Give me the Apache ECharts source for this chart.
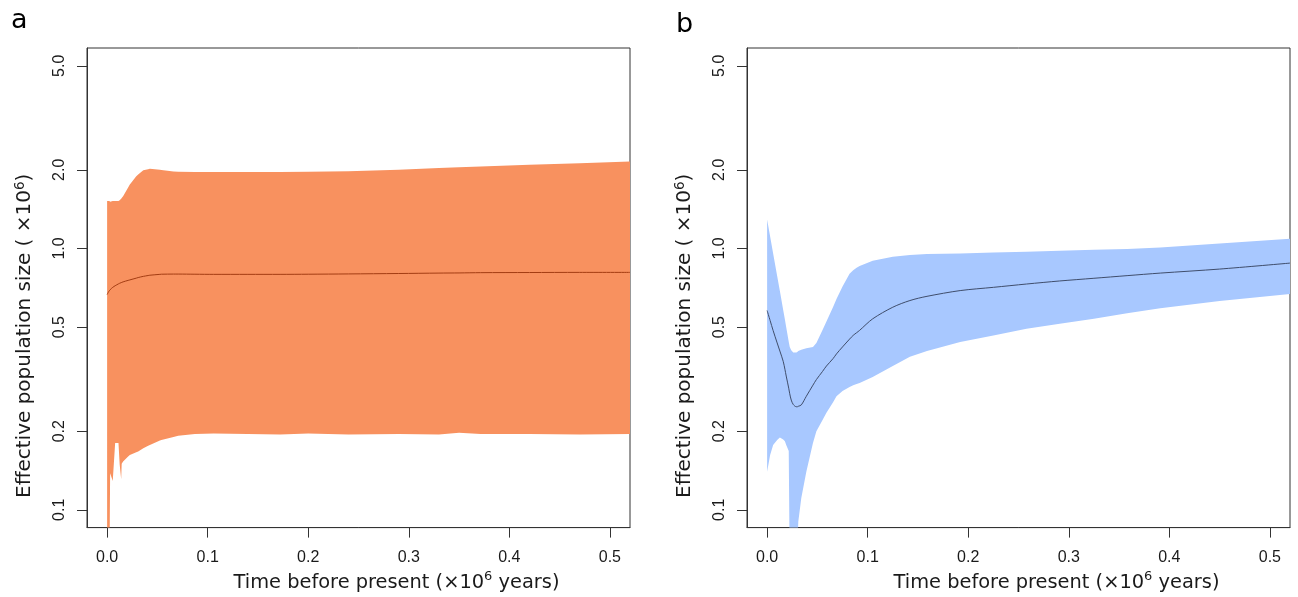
<!DOCTYPE html>
<html><head><meta charset="utf-8">
<script src="https://cdn.jsdelivr.net/npm/echarts@6/dist/echarts.min.js"></script>
<style>html,body{margin:0;padding:0;background:#fff}#c{width:1298px;height:597px}</style>
</head><body><div id="c"></div>
<script>
// ---- Panel a (orange) ----
const timesA  = [0, 0.0015, 0.0022, 0.003, 0.0056, 0.008, 0.0113, 0.0125, 0.014, 0.0145, 0.0159, 0.0209, 0.0226, 0.029, 0.0309, 0.036, 0.0408, 0.0425, 0.0525, 0.054, 0.066, 0.0707, 0.0873, 0.106, 0.14, 0.172, 0.2, 0.24, 0.29, 0.33, 0.35, 0.3715, 0.42, 0.47, 0.52];
const upperA  = [1.52, 1.52, 1.52, 1.51, 1.52, 1.52, 1.52, 1.53, 1.55, 1.56, 1.585, 1.71, 1.757, 1.89, 1.92, 1.99, 2.01, 2.02, 2.0, 1.995, 1.97, 1.965, 1.96, 1.96, 1.96, 1.96, 1.965, 1.975, 2.0, 2.03, 2.045, 2.06, 2.09, 2.12, 2.15];
const lowerA  = [0.05, 0.05, 0.05, 0.138, 0.129, 0.18, 0.18, 0.149, 0.131, 0.15, 0.153, 0.16, 0.162, 0.166, 0.167, 0.172, 0.176, 0.177, 0.184, 0.185, 0.19, 0.192, 0.195, 0.196, 0.195, 0.194, 0.196, 0.194, 0.195, 0.194, 0.197, 0.195, 0.195, 0.194, 0.195];
const medianA = [0.666, 0.683, 0.689, 0.695, 0.71, 0.72, 0.732, 0.736, 0.74, 0.741, 0.745, 0.755, 0.758, 0.77, 0.774, 0.782, 0.788, 0.79, 0.796, 0.797, 0.798, 0.798, 0.797, 0.796, 0.796, 0.796, 0.797, 0.799, 0.802, 0.805, 0.806, 0.808, 0.809, 0.81, 0.81];

// ---- Panel b (blue) ----
const timesB  = [0, 0.003, 0.006, 0.01, 0.0127, 0.016, 0.0177, 0.019, 0.0215, 0.0225, 0.024, 0.026, 0.029, 0.03, 0.031, 0.034, 0.039, 0.0456, 0.049, 0.055, 0.059, 0.0656, 0.069, 0.075, 0.082, 0.0856, 0.089, 0.092, 0.105, 0.125, 0.142, 0.159, 0.192, 0.225, 0.258, 0.291, 0.325, 0.358, 0.391, 0.45, 0.52];
const upperB  = [1.29, 1.11, 0.957, 0.785, 0.687, 0.582, 0.535, 0.50, 0.44, 0.42, 0.408, 0.40, 0.40, 0.402, 0.405, 0.41, 0.415, 0.42, 0.435, 0.486, 0.525, 0.597, 0.64, 0.715, 0.80, 0.826, 0.843, 0.857, 0.897, 0.93, 0.945, 0.952, 0.957, 0.965, 0.971, 0.98, 0.988, 0.995, 1.009, 1.045, 1.09];
const lowerB  = [0.14, 0.162, 0.177, 0.185, 0.189, 0.186, 0.183, 0.177, 0.168, 0.06, 0.06, 0.06, 0.06, 0.07, 0.09, 0.111, 0.14, 0.18, 0.2, 0.22, 0.235, 0.258, 0.272, 0.285, 0.295, 0.30, 0.303, 0.306, 0.322, 0.355, 0.385, 0.405, 0.439, 0.465, 0.493, 0.515, 0.538, 0.565, 0.59, 0.63, 0.67];
const medianB = [0.579, 0.53, 0.485, 0.435, 0.405, 0.37, 0.345, 0.325, 0.292, 0.278, 0.263, 0.253, 0.248, 0.248, 0.249, 0.252, 0.272, 0.30, 0.315, 0.338, 0.355, 0.379, 0.395, 0.42, 0.45, 0.465, 0.476, 0.486, 0.538, 0.596, 0.632, 0.656, 0.69, 0.71, 0.731, 0.751, 0.769, 0.787, 0.805, 0.834, 0.879];

// ---- Axis ticks ----
const xTicks = [0, 0.1, 0.2, 0.3, 0.4, 0.5];
const yTicks = [0.1, 0.2, 0.5, 1.0, 2.0, 5.0];

const L = Math.log10;
const ly0 = L(yTicks[0]), ly1 = L(yTicks[yTicks.length - 1]);
const yMin = ly0 - 0.04 * (ly1 - ly0), yMax = ly1 + 0.04 * (ly1 - ly0);
const xMin = xTicks[0] - 0.04 * (xTicks[xTicks.length - 1] - xTicks[0]);
const xMax = xTicks[xTicks.length - 1] + 0.04 * (xTicks[xTicks.length - 1] - xTicks[0]);

function pts(t, v) { return t.map((x, i) => [x, L(v[i])]); }
function bandData(t, lo, hi) { return t.map((x, i) => [x, L(lo[i]), L(hi[i])]); }

const AX = '#333';
const TXT = '#1a1a1a';
const tickFont = 'Liberation Sans';
const titleFont = 'DejaVu Sans';
const xRich = {
  n: { fontFamily: titleFont, fontSize: 19.4, color: TXT, lineHeight: 24 },
  s: { fontFamily: titleFont, fontSize: 13, color: TXT, verticalAlign: 'top', lineHeight: 24 }
};
const yRich = {
  n: { fontFamily: titleFont, fontSize: 20, color: TXT, lineHeight: 24 },
  s: { fontFamily: titleFont, fontSize: 13.5, color: TXT, verticalAlign: 'top', lineHeight: 24 }
};

function xAxis(idx) {
  return {
    type: 'value', gridIndex: idx, min: xMin, max: xMax,
    splitLine: { show: false },
    axisLine: { show: true, onZero: false, lineStyle: { color: AX, width: 1 } },
    axisTick: { show: true, length: 10, lineStyle: { color: AX }, customValues: xTicks },
    axisLabel: { customValues: xTicks, margin: 22, fontFamily: tickFont, fontSize: 16, color: TXT,
      formatter: v => v.toFixed(1) },
    name: '{n|Time before present (×10}{s|6}{n| years)}',
    nameLocation: 'middle', nameGap: 38,
    nameTextStyle: { rich: xRich, padding: [0, 0, 0, 76] }
  };
}
function yAxis(idx) {
  return {
    type: 'value', gridIndex: idx, min: yMin, max: yMax,
    splitLine: { show: false },
    axisLine: { show: true, onZero: false, lineStyle: { color: AX, width: 1 } },
    axisTick: { show: true, length: 10, lineStyle: { color: AX }, customValues: yTicks.map(L) },
    axisLabel: { customValues: yTicks.map(L), rotate: 90, margin: 19, fontFamily: tickFont, fontSize: 16, color: TXT,
      formatter: v => Math.pow(10, v).toFixed(1) },
    name: '{n|Effective population size ( ×10}{s|6}{n|)}',
    nameLocation: 'middle', nameRotate: 90, nameGap: 50,
    nameTextStyle: { rich: yRich, padding: [0, 96, 0, 0] }
  };
}

// Confidence band drawn as one polygon through the axis scales (api.coord)
function band(idx, t, lo, hi, color) {
  const data = bandData(t, lo, hi);
  return {
    type: 'custom', xAxisIndex: idx, yAxisIndex: idx, coordinateSystem: 'cartesian2d',
    data: data, encode: { x: 0, y: [1, 2] }, silent: true, z: 1,
    renderItem: function (params, api) {
      if (params.dataIndex !== 0) return null;
      const top = data.map(d => api.coord([d[0], d[2]]));
      const bot = data.map(d => api.coord([d[0], d[1]])).reverse();
      const cs = params.coordSys;
      return {
        type: 'polygon',
        shape: { points: top.concat(bot) },
        style: { fill: color, stroke: null },
        clipPath: { type: 'rect', shape: { x: cs.x, y: cs.y, width: cs.width, height: cs.height } }
      };
    }
  };
}
function median(idx, t, v, color) {
  return { type: 'line', xAxisIndex: idx, yAxisIndex: idx, data: pts(t, v), symbol: 'none',
    smooth: 0.3, lineStyle: { color: color, width: 1 }, silent: true, z: 3 };
}

const chart = echarts.init(document.getElementById('c'), null, { renderer: 'canvas' });
chart.setOption({
  animation: false,
  backgroundColor: '#fff',
  grid: [
    { left: 87, top: 48, width: 543, height: 481, show: true, borderColor: AX, borderWidth: 1, containLabel: false },
    { left: 747, top: 48, width: 543, height: 481, show: true, borderColor: AX, borderWidth: 1, containLabel: false }
  ],
  xAxis: [xAxis(0), xAxis(1)],
  yAxis: [yAxis(0), yAxis(1)],
  graphic: [
    { type: 'text', left: 11, top: 7, style: { text: 'a', fontFamily: titleFont, fontSize: 27, fill: '#000' } },
    { type: 'text', left: 676, top: 11, style: { text: 'b', fontFamily: titleFont, fontSize: 27, fill: '#000' } }
  ],
  series: [
    band(0, timesA, lowerA, upperA, '#F8915F'),
    median(0, timesA, medianA, '#A33C12'),
    band(1, timesB, lowerB, upperB, '#A8C8FF'),
    median(1, timesB, medianB, '#3F4D6B')
  ]
});
</script>
</body></html>
